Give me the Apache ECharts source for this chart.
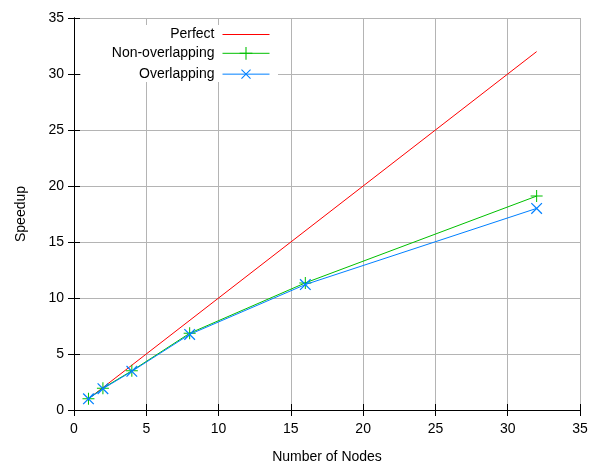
<!DOCTYPE html>
<html>
<head>
<meta charset="utf-8">
<script src="https://cdn.jsdelivr.net/npm/echarts@6/dist/echarts.min.js"></script>
<style>
  html, body { margin: 0; padding: 0; background: #fff; }
  #chart { width: 593px; height: 463px; }
</style>
</head>
<body>
<div id="chart"></div>
<script>
// data
var nodes          = [1, 2, 4, 8, 16, 32];
var perfect        = [1, 2, 4, 8, 16, 32];
var nonOverlapping = [1, 1.95, 3.5, 6.85, 11.35, 19.1];
var overlapping    = [1, 1.9, 3.45, 6.75, 11.2, 18.0];
var seriesNames    = ['Perfect', 'Non-overlapping', 'Overlapping'];
var seriesColors   = ['#ff0000', '#00c000', '#0080ff'];

var FONT = 'Liberation Sans, Arial, sans-serif';
var PLUS = 'path://M5.5,0H6.5V12H5.5Z M0,5.5H12V6.5H0Z';

function pairs(ys) {
    var out = [];
    for (var i = 0; i < nodes.length; i++) out.push([nodes[i], ys[i]]);
    return out;
}

function axisCommon(extra) {
    var a = {
        type: 'value',
        min: 0,
        max: 35,
        interval: 5,
        axisLine: { show: true, lineStyle: { color: '#000', width: 1 } },
        axisTick: { show: true, inside: true, length: 6, lineStyle: { color: '#000' } },
        axisLabel: { color: '#000', fontFamily: FONT, fontSize: 14 },
        splitLine: { show: false }
    };
    for (var k in extra) a[k] = extra[k];
    return a;
}

function legendFor(name, idx) {
    var item = { name: name };
    if (idx === 0) item.itemStyle = { opacity: 0 };
    return {
        data: [item],
        right: 323,
        top: 27.5 + idx * 18.8,
        align: 'right',
        itemWidth: 47,
        itemHeight: 16,
        itemGap: 0,
        padding: 0,
        lineStyle: { width: 1 },
        textStyle: { color: '#000', fontFamily: FONT, fontSize: 14, padding: [0, 3, 0, 0] }
    };
}

var chart = echarts.init(document.getElementById('chart'));
chart.setOption({
    animation: false,
    backgroundColor: '#fff',
    grid: { left: 74, right: 13, top: 18, bottom: 53, outerBoundsMode: 'none', containLabel: false },
    legend: [legendFor(seriesNames[0], 0), legendFor(seriesNames[1], 1), legendFor(seriesNames[2], 2)],
    graphic: [{
        type: 'rect',
        z: 1,
        shape: { x: 81, y: 25, width: 197, height: 57 },
        style: { fill: '#fff' }
    }],
    xAxis: [
        axisCommon({
            name: 'Number of Nodes',
            nameLocation: 'middle',
            nameGap: 40,
            nameTextStyle: { color: '#000', fontFamily: FONT, fontSize: 14 },
            axisLabel: { color: '#000', fontFamily: FONT, fontSize: 14, margin: 12 },
            splitLine: { show: true, lineStyle: { color: '#b4b4b4', width: 1 } }
        }),
        axisCommon({ position: 'top', axisLabel: { show: false } })
    ],
    yAxis: [
        axisCommon({
            name: 'Speedup',
            nameLocation: 'middle',
            nameGap: 46,
            nameTextStyle: { color: '#000', fontFamily: FONT, fontSize: 14 },
            axisLabel: { color: '#000', fontFamily: FONT, fontSize: 14, margin: 10 },
            splitLine: { show: true, lineStyle: { color: '#b4b4b4', width: 1 } }
        }),
        axisCommon({ position: 'right', axisLabel: { show: false } })
    ],
    series: [
        {
            name: seriesNames[0],
            type: 'line',
            z: 3,
            data: pairs(perfect).filter(function (d, i) { return i === 0 || i === nodes.length - 1; }),
            symbol: 'none',
            color: seriesColors[0],
            lineStyle: { width: 1, color: seriesColors[0] }
        },
        {
            name: seriesNames[1],
            type: 'line',
            z: 3,
            data: pairs(nonOverlapping),
            symbol: PLUS,
            symbolSize: 12,
            showAllSymbol: true,
            color: seriesColors[1],
            itemStyle: { color: seriesColors[1] },
            lineStyle: { width: 1, color: seriesColors[1] }
        },
        {
            name: seriesNames[2],
            type: 'line',
            z: 4,
            data: pairs(overlapping),
            symbol: PLUS,
            symbolRotate: 45,
            symbolSize: 15,
            showAllSymbol: true,
            color: seriesColors[2],
            itemStyle: { color: seriesColors[2] },
            lineStyle: { width: 1, color: seriesColors[2] }
        }
    ]
});
</script>
</body>
</html>
